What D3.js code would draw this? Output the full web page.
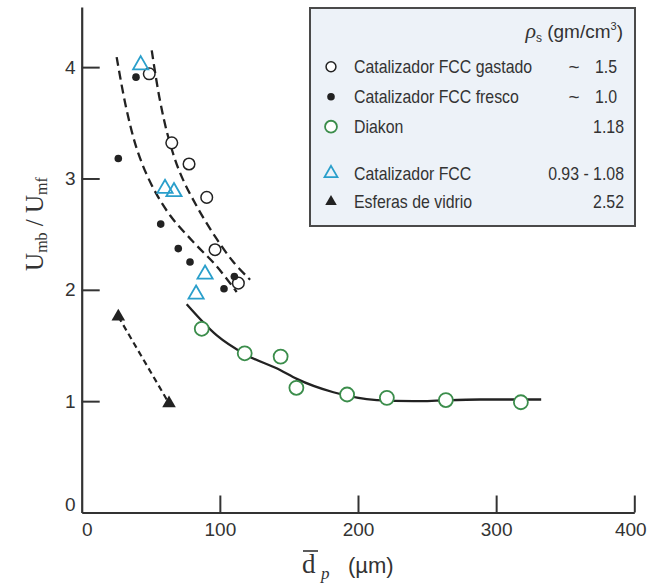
<!DOCTYPE html>
<html>
<head>
<meta charset="utf-8">
<script src="https://cdnjs.cloudflare.com/ajax/libs/d3/7.8.5/d3.min.js"></script>
<style>
  body { margin: 0; background: #fff; }
  svg { display: block; font-family: "Liberation Sans", Arial, sans-serif; }
</style>
</head>
<body>
<svg id="chart" width="648" height="586"></svg>
<script>
// Each point is [dp in um, Umb/Umf].
var GASTADO = [[48.9, 3.94], [65.2, 3.32], [77.7, 3.13], [90.5, 2.83], [96.5, 2.36], [113.4, 2.06]];
var FRESCO = [[39.3, 3.91], [26.5, 3.18], [57.2, 2.59], [69.9, 2.37], [78.4, 2.25], [103.0, 2.01], [110.5, 2.12]];
var DIAKON = [[86.9, 1.65], [118.0, 1.43], [144.0, 1.40], [155.4, 1.12], [192.1, 1.06], [220.9, 1.03], [263.6, 1.01], [317.9, 0.99]];
var FCC = [[42.7, 4.02], [60.3, 2.91], [66.8, 2.88], [89.3, 2.14], [82.8, 1.96]];
var VIDRIO = [[26.5, 1.76], [63.2, 0.98]];

// hand drawn trend curves
var CURVE_GASTADO = [[50.7, 4.15], [56.2, 3.73], [62.7, 3.37], [71.2, 3.05], [83.3, 2.75], [96.5, 2.48], [109.8, 2.25], [121.9, 2.09]];
var CURVE_FRESCO = [[25.3, 4.09], [32.1, 3.64], [40.3, 3.25], [50.7, 2.94], [63.9, 2.67], [80.8, 2.43], [97.8, 2.21], [112.2, 1.98]];
var CURVE_DIAKON = [[76.0, 1.87], [97.8, 1.59], [118.3, 1.42], [143.6, 1.28], [155.7, 1.20], [182.2, 1.08], [213.6, 1.01], [240.1, 1.00], [288.4, 1.015], [332.6, 1.015]];

var X_TICKS = [0, 100, 200, 300, 400];
var Y_TICKS = [0, 1, 2, 3, 4];

// key, label, approx sign, density
var LEGEND_ROWS = [
  ['gastado', 'Catalizador FCC gastado', true, '1.5'],
  ['fresco', 'Catalizador FCC fresco', true, '1.0'],
  ['diakon', 'Diakon', false, '1.18'],
  ['fcc', 'Catalizador FCC', false, '0.93 - 1.08'],
  ['vidrio', 'Esferas de vidrio', false, '2.52']
];

var svg = d3.select('#chart');
var INK = '#333';
var CYAN = '#2a9fcb';
var GREEN = '#3b8d4b';

var x = d3.scaleLinear().domain([0, 400]).range([81.7, 634.3]);
var y = d3.scaleLinear().domain([0, 4.54]).range([512.5, 7]);

var line = function(curve) {
  return d3.line().x(function(d) { return x(d[0]); }).y(function(d) { return y(d[1]); }).curve(curve);
};

// axes
var xAxis = svg.append('g')
  .attr('transform', 'translate(0,' + y(0) + ')')
  .call(d3.axisBottom(x).tickValues(X_TICKS).tickFormat(d3.format('d'))
    .tickSize(-17).tickSizeOuter(0).tickPadding(10));
var yAxis = svg.append('g')
  .attr('transform', 'translate(' + x(0) + ',0)')
  .call(d3.axisLeft(y).tickValues(Y_TICKS).tickFormat(d3.format('d'))
    .tickSize(-18).tickSizeOuter(0).tickPadding(6));

[xAxis, yAxis].forEach(function(g) {
  g.select('.domain').attr('stroke', INK).attr('stroke-width', 2.2);
  g.selectAll('.tick line').attr('stroke', INK).attr('stroke-width', 2);
  g.selectAll('.tick text').attr('fill', INK).style('font-size', '19px')
    .style('font-family', '"Liberation Sans", Arial, sans-serif');
});
// the two zeros sit a little off the corner, the 400 is pulled in from the edge
xAxis.selectAll('.tick text').filter(function(d) { return d === 0; }).attr('dx', 5);
xAxis.selectAll('.tick text').filter(function(d) { return d === 400; }).attr('dx', -4);
yAxis.selectAll('.tick text').filter(function(d) { return d === 0; }).attr('dy', '-0.1em');
xAxis.selectAll('.tick').filter(function(d) { return d === 0; }).select('line').remove();
yAxis.selectAll('.tick').filter(function(d) { return d === 0; }).select('line').remove();

// axis titles
var yTitle = svg.append('text')
  .attr('transform', 'translate(43,224) rotate(-90)')
  .attr('text-anchor', 'middle')
  .attr('fill', INK)
  .style('font-family', '"Liberation Serif", "Times New Roman", serif')
  .style('font-size', '25px');
yTitle.append('tspan').text('U');
yTitle.append('tspan').attr('dy', 4).style('font-size', '16px').text('mb');
yTitle.append('tspan').attr('dy', -4).text(' / U');
yTitle.append('tspan').attr('dy', 4).style('font-size', '16px').text('mf');

var xTitle = svg.append('g').attr('fill', INK);
xTitle.append('text').attr('x', 302).attr('y', 573)
  .style('font-family', '"Liberation Serif", "Times New Roman", serif').style('font-size', '27px').text('d');
xTitle.append('line').attr('x1', 303).attr('x2', 318).attr('y1', 551).attr('y2', 551)
  .attr('stroke', INK).attr('stroke-width', 1.6);
xTitle.append('text').attr('x', 321).attr('y', 579)
  .style('font-family', '"Liberation Serif", "Times New Roman", serif').style('font-style', 'italic')
  .style('font-size', '17px').text('p');
xTitle.append('text').attr('x', 348).attr('y', 573).style('font-size', '22px').text('(\u00b5m)');

// curves
var curves = svg.append('g').attr('fill', 'none').attr('stroke', '#222');
curves.append('path').datum(CURVE_GASTADO).attr('d', line(d3.curveCatmullRom))
  .attr('stroke-width', 2.3).attr('stroke-dasharray', '9,5');
curves.append('path').datum(CURVE_FRESCO).attr('d', line(d3.curveCatmullRom))
  .attr('stroke-width', 2.3).attr('stroke-dasharray', '9,5');
curves.append('path').datum(CURVE_DIAKON).attr('d', line(d3.curveMonotoneX))
  .attr('stroke-width', 2.3);
curves.append('path').datum(VIDRIO).attr('d', line(d3.curveLinear))
  .attr('stroke-width', 2.2).attr('stroke-dasharray', '6,4');

// markers
var marker = {
  gastado: function(g, s) {
    g.append('circle').attr('r', 5.8 * s).attr('fill', '#fff').attr('stroke', '#222').attr('stroke-width', 1.5);
  },
  fresco: function(g, s) {
    g.append('circle').attr('r', 3.8).attr('fill', '#222');
  },
  diakon: function(g, s) {
    g.append('circle').attr('r', 7 * s).attr('fill', '#fff').attr('stroke', GREEN).attr('stroke-width', 1.8);
  },
  fcc: function(g, s) {
    g.append('path').attr('d', d3.symbol(d3.symbolTriangle, 100 * s * s)())
      .attr('fill', 'none').attr('stroke', CYAN).attr('stroke-width', 1.8);
  },
  vidrio: function(g, s) {
    g.append('path').attr('d', d3.symbol(d3.symbolTriangle, 80 * s * s)()).attr('fill', '#222');
  }
};

var SERIES = [['gastado', GASTADO], ['fresco', FRESCO], ['diakon', DIAKON], ['fcc', FCC], ['vidrio', VIDRIO]];
SERIES.forEach(function(series) {
  svg.append('g').selectAll('g').data(series[1]).enter().append('g')
    .attr('transform', function(d) { return 'translate(' + x(d[0]) + ',' + y(d[1]) + ')'; })
    .each(function() { marker[series[0]](d3.select(this), 1); });
});

// legend
var legend = svg.append('g');
legend.append('rect').attr('x', 310).attr('y', 8).attr('width', 325).attr('height', 218)
  .attr('fill', '#edf2f8').attr('stroke', '#4a4a4a').attr('stroke-width', 2);

var head = legend.append('text').attr('x', 623).attr('y', 38).attr('text-anchor', 'end')
  .attr('fill', INK).style('font-size', '19px');
head.append('tspan').style('font-style', 'italic').style('font-family', '"Liberation Serif", serif').style('font-size', '22px').text('\u03c1');
head.append('tspan').attr('dy', 4).style('font-size', '12px').text('s');
head.append('tspan').attr('dy', -4).text(' (gm/cm');
head.append('tspan').attr('dy', -8).style('font-size', '11px').text('3');
head.append('tspan').attr('dy', 8).text(')');

var ROW_Y = [66.7, 96.7, 126.7, 173.3, 201.7];
var rows = legend.selectAll('.entry').data(LEGEND_ROWS).enter().append('g')
  .classed('entry', true)
  .attr('transform', function(d, i) { return 'translate(0,' + ROW_Y[i] + ')'; });

rows.append('g').attr('transform', 'translate(331,0)')
  .each(function(d) { marker[d[0]](d3.select(this), 0.85); });

rows.append('text').attr('x', 354).attr('y', 6.5).attr('fill', INK)
  .classed('narrow', true).text(function(d) { return d[1]; });
rows.append('text').attr('x', function(d) { return d[2] ? 617 : 624; }).attr('y', 6.5)
  .attr('text-anchor', 'end').attr('fill', INK)
  .classed('narrow', true).text(function(d) { return d[3]; });
rows.filter(function(d) { return d[2]; }).append('text')
  .attr('x', 574).attr('y', 6.5).attr('text-anchor', 'middle').attr('fill', INK)
  .style('font-size', '19px').text('~');

// legend lettering is a condensed face; squeeze the regular one to fit
legend.selectAll('.narrow').style('font-size', '19px').each(function() {
  var w = this.getComputedTextLength();
  d3.select(this).attr('textLength', w * 0.835).attr('lengthAdjust', 'spacingAndGlyphs');
});
</script>
</body>
</html>
